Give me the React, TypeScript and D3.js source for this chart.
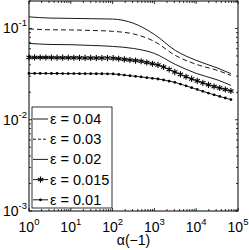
import React from "react";
import * as d3 from "d3";

// log10(alpha) sample positions
const coarseExp = [0, 0.5, 1, 1.5, 2, 2.5, 3, 3.5, 4, 4.5, 4.83];
const denseExp = [
    0, 0.134, 0.268, 0.403, 0.537, 0.671, 0.805, 0.939, 1.073, 1.208, 1.342, 1.476, 1.61,
    1.744, 1.878, 2.013, 2.147, 2.281, 2.415, 2.549, 2.683, 2.818, 2.952, 3.086, 3.22,
    3.354, 3.488, 3.623, 3.757, 3.891, 4.025, 4.159, 4.293, 4.428, 4.562, 4.696, 4.83,
];

const eps04 = [0.134, 0.13, 0.129, 0.128, 0.1268, 0.114, 0.086, 0.0575, 0.0447, 0.037, 0.032];
const eps03 = [0.0988, 0.0968, 0.0964, 0.0951, 0.0931, 0.0871, 0.0721, 0.0507, 0.0405, 0.0348, 0.0306];
const eps02 = [0.0686, 0.0668, 0.0664, 0.0652, 0.0636, 0.0604, 0.0533, 0.0404, 0.0322, 0.0274, 0.0238];
const eps015 = [
    0.04819, 0.04814, 0.04808, 0.04802, 0.04796, 0.0479, 0.04784, 0.04777, 0.04772, 0.04766,
    0.0476, 0.04754, 0.04749, 0.04742, 0.04737, 0.04725, 0.04655, 0.04586, 0.04518, 0.04451,
    0.04373, 0.04238, 0.04109, 0.03985, 0.0378, 0.03548, 0.0333, 0.0314, 0.02961, 0.02801,
    0.02666, 0.02537, 0.02414, 0.02316, 0.02229, 0.02146, 0.02065,
];
const eps01 = [
    0.03221, 0.03219, 0.03216, 0.03214, 0.03212, 0.03209, 0.03207, 0.03204, 0.03201, 0.03199,
    0.03196, 0.03194, 0.03192, 0.03189, 0.03187, 0.03179, 0.0313, 0.03082, 0.03035, 0.02989,
    0.02942, 0.02893, 0.02844, 0.02795, 0.02726, 0.02648, 0.02571, 0.02459, 0.02351, 0.02247,
    0.02146, 0.02049, 0.01957, 0.01876, 0.01801, 0.0173, 0.01663,
];

const legendLabels = ["ε = 0.04", "ε = 0.03", "ε = 0.02", "ε = 0.015", "ε = 0.01"];
const xTickExp = [0, 1, 2, 3, 4, 5];
const yTickExp = [-3, -2, -1];

const W = 249;
const H = 250;
const left = 29;
const right = 238;
const top = 1;
const bottom = 211;
const font = "'Liberation Sans', Arial, Helvetica, sans-serif";

const App = () => {
    const x = d3.scaleLog().domain([1, 1e5]).range([left, right]);
    const y = d3.scaleLog().domain([1e-3, 0.2]).range([bottom, top]);

    const lineOf = (exps: number[], vals: number[], smooth: boolean) =>
        d3
            .line<number>()
            .x((_d, i) => x(Math.pow(10, exps[i])))
            .y((d) => y(d))
            .curve(smooth ? d3.curveMonotoneX : d3.curveLinear)(vals) || "";

    const star = d3.symbol().type(d3.symbolAsterisk).size(26)() || "";

    const xMinor = x.ticks().filter((t) => !xTickExp.some((e) => Math.abs(Math.pow(10, e) - t) < 1e-9));
    const yMinor = y.ticks().filter((t) => !yTickExp.some((e) => Math.abs(Math.pow(10, e) - t) < 1e-12));

    const legTop = 107;
    const legBottom = 208;
    const legLeft = 32;
    const legRight = 112;
    const rowY = (i: number) => 119 + i * 20.2;

    return (
        <svg width={W} height={H} style={{ position: "absolute", left: 0, top: 0, background: "#fff" }}>
            <rect x={0} y={0} width={W} height={H} fill="#fff" />
            {/* curves */}
            <g fill="none" stroke="#000" strokeWidth={0.9}>
                <path d={lineOf(coarseExp, eps04, true)} />
                <path d={lineOf(coarseExp, eps03, true)} strokeDasharray="5,3" />
                <path d={lineOf(coarseExp, eps02, true)} />
                <path d={lineOf(denseExp, eps015, false)} />
                <path d={lineOf(denseExp, eps01, false)} />
            </g>
            <g stroke="#000" strokeWidth={1.1} fill="none">
                {eps015.map((v, i) => (
                    <path key={i} d={star} transform={`translate(${x(Math.pow(10, denseExp[i]))},${y(v)})`} />
                ))}
            </g>
            <g fill="#000">
                {eps01.map((v, i) => (
                    <circle key={i} cx={x(Math.pow(10, denseExp[i]))} cy={y(v)} r={1.4} />
                ))}
            </g>

            {/* axes box and ticks */}
            <rect x={left} y={top} width={right - left} height={bottom - top} fill="none" stroke="#000" strokeWidth={1} />
            <g stroke="#000" strokeWidth={0.8}>
                {xTickExp.map((e) => {
                    const px = x(Math.pow(10, e));
                    return (
                        <g key={e}>
                            <line x1={px} x2={px} y1={bottom} y2={bottom - 3} />
                            <line x1={px} x2={px} y1={top} y2={top + 3} />
                        </g>
                    );
                })}
                {xMinor.map((t, i) => {
                    const px = x(t);
                    return (
                        <g key={i}>
                            <line x1={px} x2={px} y1={bottom} y2={bottom - 2} />
                            <line x1={px} x2={px} y1={top} y2={top + 2} />
                        </g>
                    );
                })}
                {yTickExp.map((e) => {
                    const py = y(Math.pow(10, e));
                    return (
                        <g key={e}>
                            <line x1={left} x2={left + 3} y1={py} y2={py} />
                            <line x1={right} x2={right - 3} y1={py} y2={py} />
                        </g>
                    );
                })}
                {yMinor.map((t, i) => {
                    const py = y(t);
                    return (
                        <g key={i}>
                            <line x1={left} x2={left + 2} y1={py} y2={py} />
                            <line x1={right} x2={right - 2} y1={py} y2={py} />
                        </g>
                    );
                })}
            </g>

            {/* tick labels */}
            <g fontFamily={font} fontSize={14} fill="#000">
                {xTickExp.map((e) => (
                    <text key={e} x={x(Math.pow(10, e))} y={232} textAnchor="middle">
                        10<tspan fontSize={9.5} dy={-7}>{e}</tspan>
                    </text>
                ))}
                {yTickExp.map((e) => (
                    <text key={e} x={27} y={y(Math.pow(10, e)) + 5} textAnchor="end">
                        10<tspan fontSize={9.5} dy={-7}>{e}</tspan>
                    </text>
                ))}
                <text x={(left + right) / 2} y={245} textAnchor="middle">
                    α(−1)
                </text>
            </g>

            {/* legend */}
            <rect x={legLeft} y={legTop} width={legRight - legLeft} height={legBottom - legTop} fill="#fff" stroke="#000" strokeWidth={0.8} />
            <g stroke="#000" strokeWidth={0.9} fill="none">
                <line x1={33} x2={48} y1={rowY(0)} y2={rowY(0)} />
                <line x1={33} x2={48} y1={rowY(1)} y2={rowY(1)} strokeDasharray="3,2" />
                <line x1={33} x2={48} y1={rowY(2)} y2={rowY(2)} />
                <line x1={33} x2={48} y1={rowY(3)} y2={rowY(3)} />
                <line x1={33} x2={48} y1={rowY(4)} y2={rowY(4)} />
                <path d={star} transform={`translate(40.5,${rowY(3)})`} strokeWidth={1.1} />
            </g>
            <circle cx={40.5} cy={rowY(4)} r={1.4} fill="#000" />
            <g fontFamily={font} fontSize={14.5} fill="#000">
                {legendLabels.map((l, i) => (
                    <text key={l} x={50} y={rowY(i) + 5}>
                        {l}
                    </text>
                ))}
            </g>
        </svg>
    );
};

export default App;
